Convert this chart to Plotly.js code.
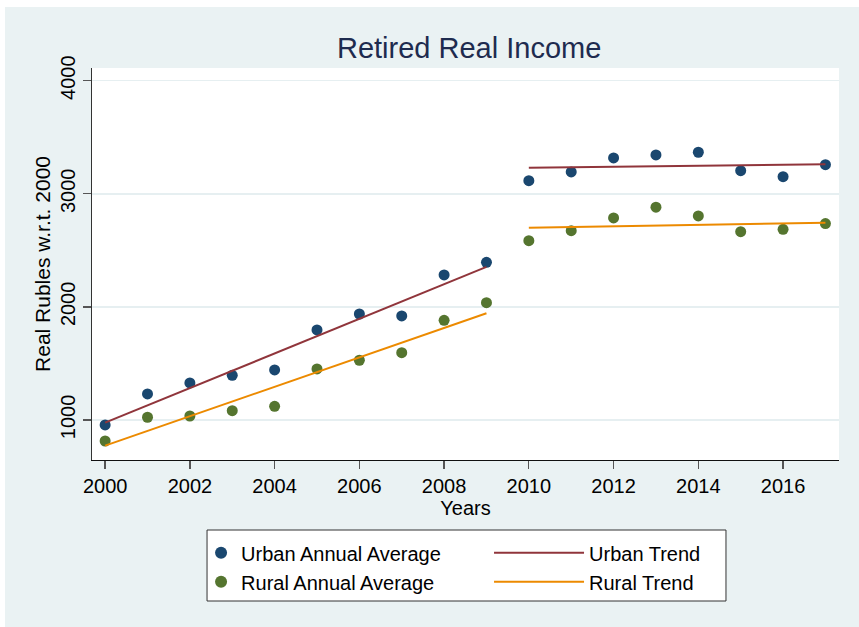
<!DOCTYPE html>
<html>
<head>
<meta charset="utf-8">
<script src="https://cdn.plot.ly/plotly-3.0.1.min.js"></script>
<style>
  html, body { margin: 0; padding: 0; background: #ffffff; }
  #chart { position: absolute; left: 5px; top: 7px; width: 854px; height: 620px; }
</style>
</head>
<body>
<div id="chart"></div>
<script>
// ---- data ----
const years = [2000, 2001, 2002, 2003, 2004, 2005, 2006, 2007, 2008, 2009,
               2010, 2011, 2012, 2013, 2014, 2015, 2016, 2017];
const urbanAverage = [956, 1230, 1327, 1395, 1442, 1796, 1937, 1920, 2282, 2394,
                      3116, 3193, 3317, 3343, 3367, 3204, 3151, 3257];
const ruralAverage = [814, 1024, 1035, 1082, 1121, 1451, 1528, 1595, 1881, 2037,
                      2585, 2674, 2786, 2881, 2804, 2665, 2686, 2736];

const earlyYears = [2000, 2001, 2002, 2003, 2004, 2005, 2006, 2007, 2008, 2009];
const lateYears  = [2010, 2011, 2012, 2013, 2014, 2015, 2016, 2017];
const urbanTrendEarly = [976, 1129, 1282, 1435, 1588, 1741, 1894, 2047, 2200, 2353];
const urbanTrendLate  = [3231, 3235, 3240, 3244, 3248, 3252, 3257, 3261];
const ruralTrendEarly = [773, 903, 1033, 1163, 1293, 1423, 1553, 1683, 1813, 1943];
const ruralTrendLate  = [2700, 2706, 2713, 2719, 2725, 2731, 2738, 2744];

const xTicks = [2000, 2002, 2004, 2006, 2008, 2010, 2012, 2014, 2016];
const yTicks = [1000, 2000, 3000, 4000];

const titleText = "Retired Real Income";
const xTitle = "Years";
const yTitle = "Real Rubles w.r.t. 2000";
const names = ["Urban Annual Average", "Rural Annual Average", "Urban Trend", "Rural Trend"];

// ---- styles ----
const navy = "#1A476F", green = "#55752F", maroon = "#90353B", orange = "#EC8A00";
const font = "Arial, 'Liberation Sans', sans-serif";

const traces = [
  { x: years, y: urbanAverage, type: "scatter", mode: "markers", name: names[0],
    marker: { color: navy, size: 11 }, legend: "legend" },
  { x: years, y: ruralAverage, type: "scatter", mode: "markers", name: names[1],
    marker: { color: green, size: 11 }, legend: "legend" },
  { x: earlyYears, y: urbanTrendEarly, type: "scatter", mode: "lines", name: names[2],
    line: { color: maroon, width: 2 }, legend: "legend2", legendgroup: "ut" },
  { x: earlyYears, y: ruralTrendEarly, type: "scatter", mode: "lines", name: names[3],
    line: { color: orange, width: 2 }, legend: "legend2", legendgroup: "rt" },
  { x: lateYears, y: urbanTrendLate, type: "scatter", mode: "lines", name: names[2],
    line: { color: maroon, width: 2 }, legend: "legend2", legendgroup: "ut", showlegend: false },
  { x: lateYears, y: ruralTrendLate, type: "scatter", mode: "lines", name: names[3],
    line: { color: orange, width: 2 }, legend: "legend2", legendgroup: "rt", showlegend: false }
];

const layout = {
  width: 854, height: 620,
  paper_bgcolor: "#EAF2F3", plot_bgcolor: "#FFFFFF",
  margin: { l: 87, r: 20, t: 61, b: 167 },
  font: { family: font, color: "#000000", size: 20 },
  title: { text: titleText, font: { family: font, size: 29, color: "#1E2B4F" },
           x: 0.5435, xanchor: "center", y: 0.934, yanchor: "middle", xref: "container", yref: "container" },
  xaxis: {
    range: [1999.69, 2017.32], tickvals: xTicks, ticktext: xTicks.map(String),
    showgrid: false, zeroline: false, showline: true, linecolor: "#111111", linewidth: 1.3,
    ticks: "outside", ticklen: 8, tickcolor: "#555555", tickwidth: 1.3,
    tickfont: { size: 20 },
    title: { text: xTitle, font: { size: 20 }, standoff: 3 }
  },
  yaxis: {
    range: [646, 4112], tickvals: yTicks, ticktext: yTicks.map(String),
    showgrid: true, gridcolor: "#E6EFF1", gridwidth: 1.5, zeroline: false,
    showline: true, linecolor: "#333333", linewidth: 1.3,
    ticks: "outside", ticklen: 8, tickcolor: "#555555", tickwidth: 1.3,
    tickangle: -90, tickfont: { size: 20 },
    title: { text: yTitle, font: { size: 21 }, standoff: 0 }
  },
  shapes: [
    { type: "rect", xref: "paper", yref: "paper", x0: 0.154, x1: 0.8487, y0: -0.3597, y1: -0.1786,
      line: { color: "#333333", width: 1 }, fillcolor: "#FFFFFF", layer: "below" }
  ],
  showlegend: true,
  legend: {
    x: 0.146, xanchor: "left", y: -0.187, yanchor: "top", orientation: "v",
    bgcolor: "rgba(0,0,0,0)", borderwidth: 0, font: { size: 20 },
    itemsizing: "constant", tracegroupgap: 0
  },
  legend2: {
    x: 0.5315, xanchor: "left", y: -0.187, yanchor: "top", orientation: "v",
    bgcolor: "rgba(0,0,0,0)", borderwidth: 0, font: { size: 20 },
    itemwidth: 90, tracegroupgap: 0
  }
};

Plotly.newPlot("chart", traces, layout, { displayModeBar: false, staticPlot: true });
</script>
</body>
</html>
